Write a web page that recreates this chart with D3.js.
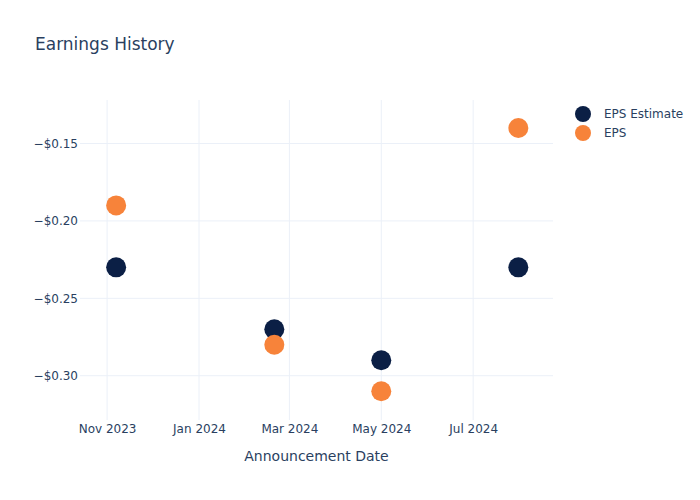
<!DOCTYPE html>
<html><head><meta charset="utf-8">
<script src="https://cdn.jsdelivr.net/npm/d3@7"></script>
<style>body{margin:0;background:#fff;} text{font-family:"DejaVu Sans",Verdana,sans-serif;}</style>
</head><body><svg id="c" width="700" height="500"></svg>
<script>
const dates = ["2023-11-07","2024-02-20","2024-05-01","2024-07-31"];
const epsEstimate = [-0.23,-0.27,-0.29,-0.23];
const eps = [-0.19,-0.28,-0.31,-0.14];
const yTicks = [-0.30,-0.25,-0.20,-0.15];
const xTicks = ["2023-11-01","2024-01-01","2024-03-01","2024-05-01","2024-07-01"];
const seriesNames = ["EPS Estimate","EPS"];
const colors = ["#0b1f45","#f7833a"];

const svg = d3.select("#c");
const parse = d3.timeParse("%Y-%m-%d");
const L=80,R=553,T=100,B=420;
const x = d3.scaleTime().domain([parse("2023-10-14"),parse("2024-08-23")]).range([L,R]);
const y = d3.scaleLinear().domain([-0.3286,-0.1219]).range([B,T]);
const txt="#2a3f5f", grid="#ebf0f8";

svg.append("g").selectAll("line").data(xTicks).join("line")
 .attr("x1",d=>x(parse(d))).attr("x2",d=>x(parse(d))).attr("y1",T).attr("y2",B)
 .attr("stroke",grid).attr("stroke-width",1);
svg.append("g").selectAll("line").data(yTicks).join("line")
 .attr("x1",L).attr("x2",R).attr("y1",d=>y(d)).attr("y2",d=>y(d))
 .attr("stroke",grid).attr("stroke-width",1);

const fmt = d=>"\u2212$"+Math.abs(d).toFixed(2);
const xa = svg.append("g").attr("transform",`translate(0,${B})`)
 .call(d3.axisBottom(x).tickValues(xTicks.map(parse)).tickFormat(d3.timeFormat("%b %Y")).tickSize(0).tickPadding(4));
xa.select(".domain").remove();
xa.selectAll("text").attr("fill",txt).attr("font-size",12).attr("font-family","DejaVu Sans");
const ya = svg.append("g").attr("transform",`translate(${L},0)`)
 .call(d3.axisLeft(y).tickValues(yTicks).tickFormat(fmt).tickSize(0).tickPadding(2));
ya.select(".domain").remove();
ya.selectAll("text").attr("fill",txt).attr("font-size",12).attr("font-family","DejaVu Sans");

const series=[epsEstimate,eps];
series.forEach((vals,i)=>{
  svg.append("g").selectAll("circle").data(vals).join("circle")
   .attr("cx",(d,j)=>x(parse(dates[j]))).attr("cy",d=>y(d)).attr("r",10)
   .attr("fill",colors[i]);
});

svg.append("text").attr("x",35).attr("y",50).attr("font-size",17).attr("fill",txt).text("Earnings History");
svg.append("text").attr("x",(L+R)/2).attr("y",461).attr("text-anchor","middle").attr("font-size",14).attr("fill",txt).text("Announcement Date");

const lg = svg.append("g");
seriesNames.forEach((n,i)=>{
  lg.append("circle").attr("cx",583).attr("cy",114+i*19).attr("r",8).attr("fill",colors[i]);
  lg.append("text").attr("x",604).attr("y",118+i*19).attr("font-size",12).attr("fill",txt).text(n);
});
</script></body></html>
